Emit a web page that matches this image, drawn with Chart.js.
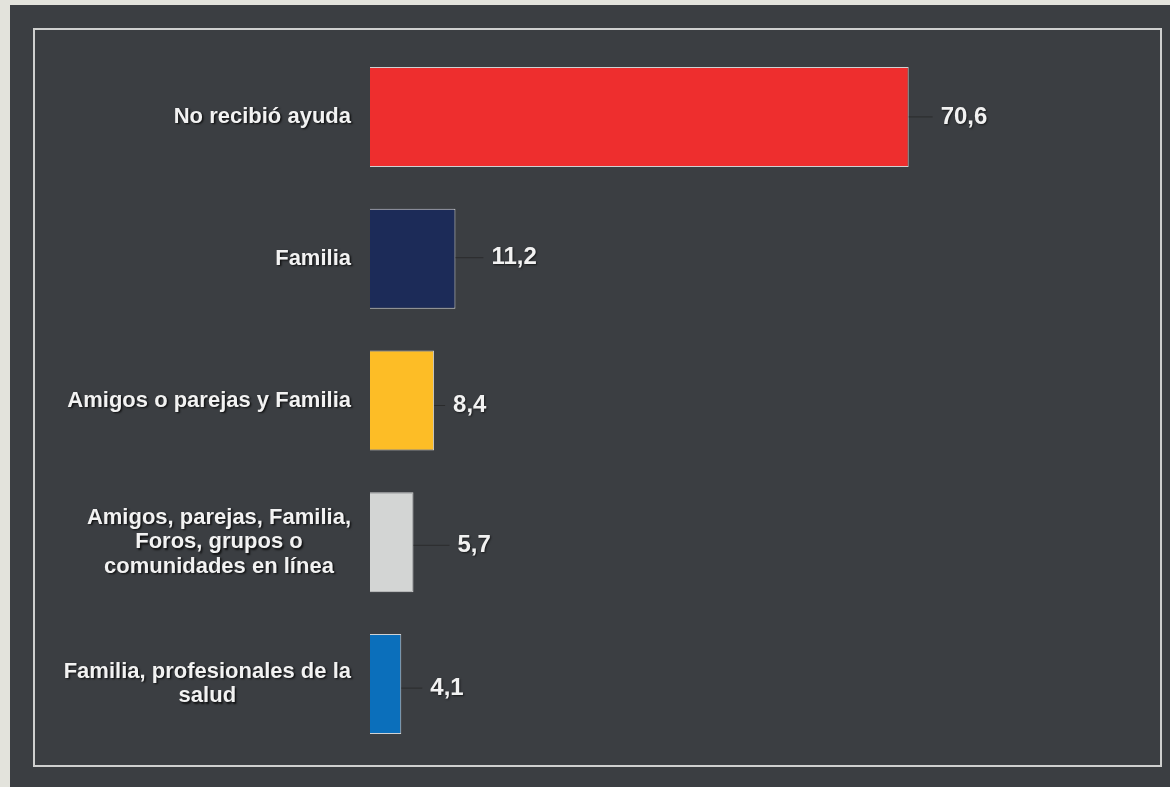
<!DOCTYPE html>
<html>
<head>
<meta charset="utf-8">
<script src="https://cdn.jsdelivr.net/npm/chart.js@4/dist/chart.umd.min.js"></script>
<style>
    html, body { margin: 0; padding: 0; }
    body { width: 1170px; height: 787px; background: #e3e3dc; position: relative; overflow: hidden; }
    #panel { position: absolute; left: 10px; top: 5px; width: 1170px; height: 800px; background: #3b3e42; }
    #frame { position: absolute; left: 33px; top: 28px; width: 1125px; height: 735px; border: 2px solid #cfd0cf; }
    #chart { position: absolute; left: 0; top: 0; }
</style>
</head>
<body>
<div id="panel"></div>
<div id="frame"></div>
<canvas id="chart" width="1170" height="787"></canvas>
<script>
// categorías (una línea por elemento)
const categories = [
    ['No recibió ayuda'],
    ['Familia'],
    ['Amigos o parejas y Familia'],
    ['Amigos, parejas, Familia,', 'Foros, grupos o', 'comunidades en línea'],
    ['Familia, profesionales de la', 'salud']
];
const values = [70.6, 11.2, 8.4, 5.7, 4.1];
const barColors = ['#ee2e2e', '#1c2b58', '#fdbd26', '#d3d5d4', '#0b6fbb'];

const FONT = '"Liberation Sans", Arial, Helvetica, sans-serif';

// etiquetas de categoría a la izquierda
const categoryLabels = {
    id: 'categoryLabels',
    afterDraw(chart) {
        const ctx = chart.ctx;
        const y = chart.scales.y;
        const right = 351;
        ctx.save();
        ctx.font = 'bold 22px ' + FONT;
        ctx.fillStyle = '#f2f2f2';
        ctx.textBaseline = 'middle';
        ctx.textAlign = 'center';
        ctx.shadowColor = 'rgba(0,0,0,0.75)';
        ctx.shadowOffsetX = 1.5;
        ctx.shadowOffsetY = 1.5;
        ctx.shadowBlur = 2;
        const lh = 24.5;
        categories.forEach((lines, i) => {
            const cy = y.getPixelForValue(i);
            const w = Math.max(...lines.map(l => ctx.measureText(l).width));
            const cx = right - w / 2;
            const y0 = cy - (lines.length - 1) * lh / 2;
            lines.forEach((l, k) => ctx.fillText(l, cx, y0 + k * lh));
        });
        ctx.restore();
    }
};

// valores con línea guía
const valueLabels = {
    id: 'valueLabels',
    afterDatasetsDraw(chart, args, opts) {
        const ctx = chart.ctx;
        const meta = chart.getDatasetMeta(0);
        ctx.save();
        ctx.font = 'bold 24px ' + FONT;
        ctx.textBaseline = 'middle';
        ctx.textAlign = 'left';
        meta.data.forEach((bar, i) => {
            const gap = opts.gaps[i];
            const ty = bar.y + opts.dy[i];
            ctx.strokeStyle = 'rgba(35,35,35,0.7)';
            ctx.lineWidth = 1;
            ctx.beginPath();
            ctx.moveTo(bar.x, ty);
            ctx.lineTo(bar.x + gap - 8, ty);
            ctx.stroke();
            ctx.shadowColor = 'rgba(0,0,0,0.6)';
            ctx.shadowOffsetX = 1;
            ctx.shadowOffsetY = 1;
            ctx.shadowBlur = 2;
            ctx.fillStyle = '#f2f2f2';
            ctx.fillText(values[i].toFixed(1).replace('.', ','), bar.x + gap, ty);
            ctx.shadowColor = 'transparent';
        });
        ctx.restore();
    }
};

new Chart(document.getElementById('chart'), {
    type: 'bar',
    data: {
        labels: categories,
        datasets: [{
            data: values,
            backgroundColor: barColors,
            borderColor: 'rgba(235,235,235,0.85)',
            borderWidth: 1,
            barPercentage: 0.7055,
            categoryPercentage: 1
        }]
    },
    options: {
        indexAxis: 'y',
        responsive: false,
        animation: false,
        layout: { padding: { left: 370, right: 37, top: 46, bottom: 32 } },
        plugins: {
            legend: { display: false },
            tooltip: { enabled: false },
            valueLabels: { gaps: [32, 36, 19, 44, 29], dy: [0, -1, 5, 3, 4] }
        },
        scales: {
            x: { display: false, min: 0, max: 100 },
            y: { display: false, offset: true }
        }
    },
    plugins: [categoryLabels, valueLabels]
});
</script>
</body>
</html>
